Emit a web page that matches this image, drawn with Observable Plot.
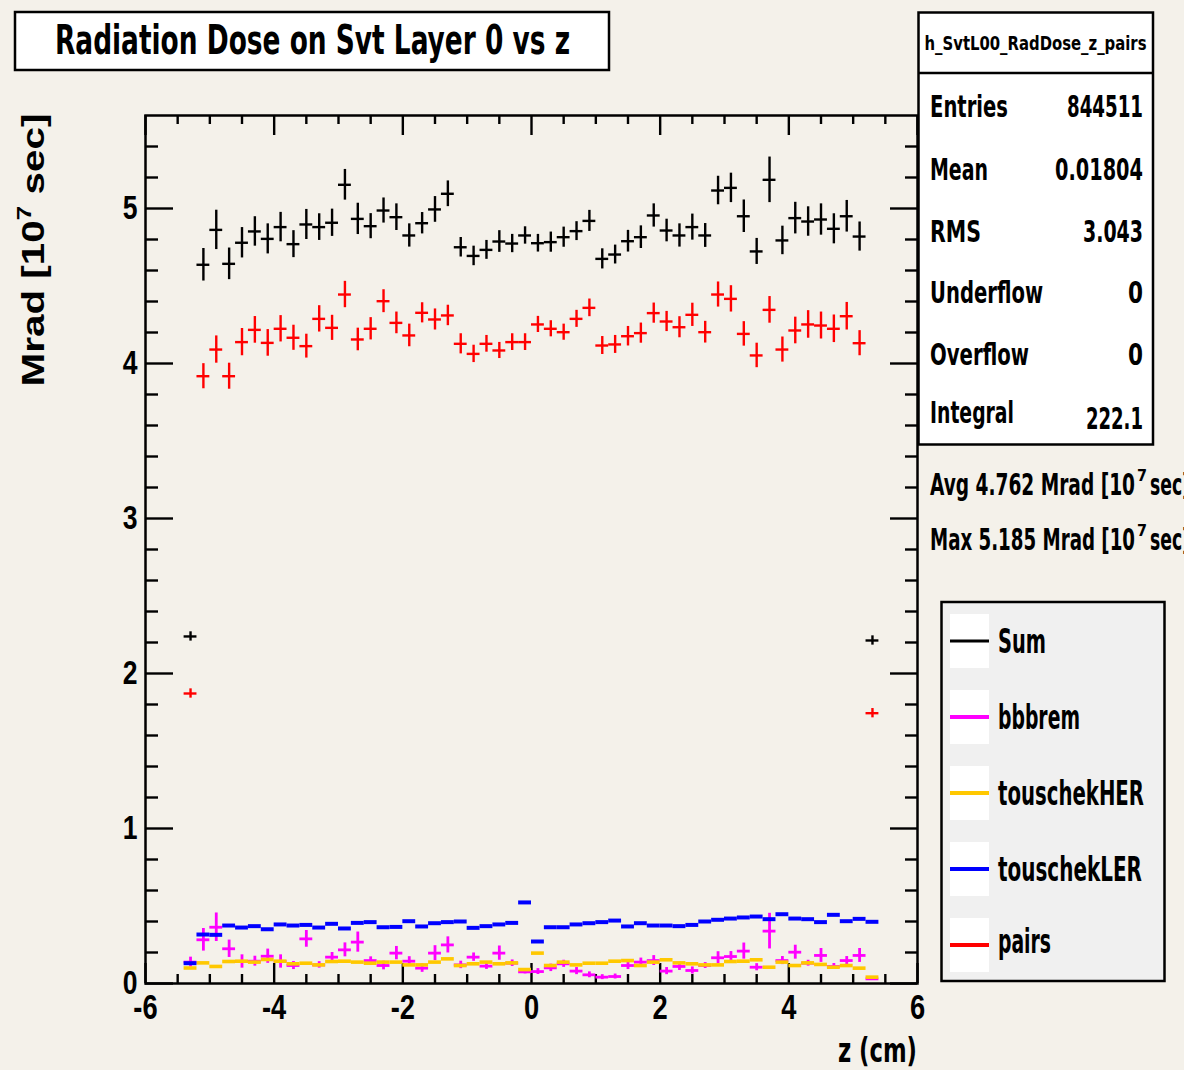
<!DOCTYPE html>
<html>
<head>
<meta charset="utf-8">
<script src="https://cdn.jsdelivr.net/npm/d3@7"></script>
<script src="https://cdn.jsdelivr.net/npm/@observablehq/plot@0.6"></script>
<style>
  html, body { margin: 0; padding: 0; background: #f4f1ea; }
  #chart { position: relative; width: 1184px; height: 1070px; overflow: hidden; }
  #chart > svg { position: absolute; left: 0; top: 0; }
</style>
</head>
<body>
<div id="chart"></div>
<script>
// Bin centres along z (cm), 0.2 cm bins
const z = [-5.3, -5.1, -4.9, -4.7, -4.5, -4.3, -4.1, -3.9, -3.7, -3.5, -3.3, -3.1, -2.9, -2.7,
  -2.5, -2.3, -2.1, -1.9, -1.7, -1.5, -1.3, -1.1, -0.9, -0.7, -0.5, -0.3, -0.1,
  0.1, 0.3, 0.5, 0.7, 0.9, 1.1, 1.3, 1.5, 1.7, 1.9, 2.1, 2.3, 2.5, 2.7, 2.9, 3.1,
  3.3, 3.5, 3.7, 3.9, 4.1, 4.3, 4.5, 4.7, 4.9, 5.1, 5.3];

// Dose per bin, Mrad [10^7 sec]
const sumDose = [2.239, 4.637, 4.862, 4.643, 4.779, 4.852, 4.804, 4.880, 4.770, 4.897, 4.880, 4.908,
  5.153, 4.933, 4.886, 4.987, 4.944, 4.826, 4.905, 4.994, 5.095, 4.750, 4.694, 4.733, 4.787, 4.774,
  4.826, 4.776, 4.783, 4.815, 4.854, 4.920, 4.675, 4.703, 4.789, 4.815, 4.955, 4.858, 4.826, 4.880,
  4.826, 5.116, 5.133, 4.950, 4.723, 5.185, 4.794, 4.938, 4.916, 4.929, 4.869, 4.950, 4.819, 2.213];
const sumErr = [0.030, 0.105, 0.127, 0.102, 0.098, 0.095, 0.097, 0.095, 0.087, 0.097, 0.086, 0.088,
  0.099, 0.101, 0.081, 0.081, 0.086, 0.075, 0.069, 0.083, 0.083, 0.063, 0.063, 0.061, 0.070, 0.059,
  0.056, 0.057, 0.065, 0.065, 0.061, 0.068, 0.065, 0.061, 0.070, 0.073, 0.075, 0.073, 0.075, 0.084,
  0.077, 0.092, 0.095, 0.105, 0.084, 0.147, 0.092, 0.102, 0.095, 0.101, 0.097, 0.102, 0.094, 0.030];

const pairsDose = [1.871, 3.918, 4.090, 3.918, 4.138, 4.217, 4.133, 4.224, 4.166, 4.112, 4.288, 4.230,
  4.445, 4.155, 4.224, 4.402, 4.262, 4.181, 4.327, 4.284, 4.310, 4.127, 4.062, 4.127, 4.084, 4.138,
  4.138, 4.252, 4.224, 4.202, 4.288, 4.359, 4.116, 4.123, 4.176, 4.196, 4.325, 4.271, 4.234, 4.314,
  4.202, 4.445, 4.417, 4.191, 4.052, 4.346, 4.090, 4.213, 4.252, 4.245, 4.224, 4.305, 4.131, 1.744];
const pairsErr = [0.030, 0.081, 0.088, 0.084, 0.088, 0.086, 0.086, 0.085, 0.081, 0.077, 0.085, 0.081,
  0.085, 0.073, 0.072, 0.074, 0.070, 0.073, 0.065, 0.068, 0.066, 0.065, 0.056, 0.054, 0.052, 0.054,
  0.054, 0.052, 0.052, 0.052, 0.055, 0.057, 0.058, 0.058, 0.063, 0.065, 0.065, 0.065, 0.068, 0.075,
  0.070, 0.081, 0.085, 0.079, 0.079, 0.086, 0.081, 0.086, 0.089, 0.087, 0.089, 0.089, 0.081, 0.030];

const bbbremDose = [0.138, 0.282, 0.363, 0.224, 0.142, 0.144, 0.176, 0.142, 0.116, 0.288, 0.120, 0.170,
  0.217, 0.267, 0.148, 0.116, 0.196, 0.144, 0.099, 0.196, 0.249, 0.120, 0.170, 0.112, 0.196, 0.131,
  0.075, 0.077, 0.101, 0.127, 0.080, 0.056, 0.041, 0.045, 0.116, 0.138, 0.148, 0.080, 0.110, 0.084,
  0.116, 0.166, 0.174, 0.209, 0.105, 0.338, 0.148, 0.202, 0.131, 0.181, 0.110, 0.148, 0.181, 0.030];
const bbbremErr = [0.032, 0.073, 0.092, 0.056, 0.043, 0.032, 0.046, 0.043, 0.026, 0.054, 0.021, 0.030,
  0.045, 0.065, 0.024, 0.028, 0.043, 0.029, 0.027, 0.048, 0.052, 0.024, 0.027, 0.021, 0.046, 0.021,
  0.013, 0.019, 0.024, 0.023, 0.023, 0.019, 0.016, 0.016, 0.026, 0.026, 0.032, 0.023, 0.026, 0.023,
  0.019, 0.039, 0.032, 0.052, 0.023, 0.115, 0.026, 0.045, 0.019, 0.045, 0.019, 0.026, 0.045, 0.006];

const herDose = [0.100, 0.133, 0.110, 0.142, 0.144, 0.138, 0.155, 0.144, 0.127, 0.131, 0.120, 0.142,
  0.144, 0.138, 0.131, 0.138, 0.138, 0.120, 0.120, 0.138, 0.159, 0.116, 0.127, 0.138, 0.127, 0.133,
  0.090, 0.196, 0.116, 0.138, 0.120, 0.131, 0.131, 0.144, 0.148, 0.116, 0.138, 0.153, 0.133, 0.127,
  0.120, 0.120, 0.142, 0.144, 0.153, 0.105, 0.138, 0.116, 0.133, 0.123, 0.105, 0.116, 0.099, 0.041];

const lerDose = [0.131, 0.316, 0.314, 0.374, 0.361, 0.370, 0.350, 0.381, 0.374, 0.378, 0.361, 0.385,
  0.355, 0.391, 0.396, 0.363, 0.365, 0.402, 0.368, 0.389, 0.396, 0.400, 0.359, 0.370, 0.381, 0.391,
  0.523, 0.271, 0.363, 0.363, 0.381, 0.389, 0.396, 0.406, 0.368, 0.389, 0.374, 0.374, 0.370, 0.378,
  0.400, 0.411, 0.419, 0.426, 0.432, 0.415, 0.447, 0.419, 0.415, 0.396, 0.443, 0.402, 0.417, 0.398];

// Axis ticks and labels
const xMajorTicks = [-6, -4, -2, 0, 2, 4, 6];
const yMajorTicks = [0, 1, 2, 3, 4, 5];

// Histogram statistics box
const statsTitle = "h_SvtL00_RadDose_z_pairs";
const statNames = ["Entries", "Mean", "RMS", "Underflow", "Overflow", "Integral"];
const statValues = ["844511", "0.01804", "3.043", "0", "0", "222.1"];
const avgDose = "4.762";
const maxDose = "5.185";

const legendNames = ["Sum", "bbbrem", "touschekHER", "touschekLER", "pairs"];
const legendColors = ["#000000", "#ff00ff", "#ffc800", "#0000ff", "#ff0000"];

const NARROW = "'Liberation Sans Narrow','DejaVu Sans Condensed','Arial Narrow','Liberation Sans',sans-serif";
const SANS = "'Liberation Sans',Arial,sans-serif";
const WIDE = "'Liberation Sans','DejaVu Sans',sans-serif";
const halfBin = 0.1;

const series = [
  {values: sumDose, errors: sumErr, color: legendColors[0], sw: 2.4},
  {values: bbbremDose, errors: bbbremErr, color: legendColors[1], sw: 2.8},
  {values: herDose, errors: null, color: legendColors[2], sw: 3.6},
  {values: lerDose, errors: null, color: legendColors[3], sw: 4},
  {values: pairsDose, errors: pairsErr, color: legendColors[4], sw: 2.4}
];

const dataMarks = series.flatMap(s => {
  const rows = z.map((zz, i) => ({z: zz, v: s.values[i], e: s.errors ? s.errors[i] : 0}));
  const marks = [
    Plot.ruleY(rows, {y: "v", x1: d => d.z - halfBin, x2: d => d.z + halfBin, stroke: s.color, strokeWidth: s.sw})
  ];
  if (s.errors) {
    marks.push(Plot.ruleX(rows, {x: "z", y1: d => d.v - d.e, y2: d => d.v + d.e, stroke: s.color, strokeWidth: s.sw}));
  }
  return marks;
});

// Frame ticks pointing inward on all four sides
const xMinorTicks = d3.range(-5.5, 6, 0.5).filter(t => !xMajorTicks.includes(Math.round(t * 10) / 10));
const yMinorTicks = d3.range(1, 28).map(k => +(k * 0.2).toFixed(1)).filter(t => Math.abs(t - Math.round(t)) > 1e-6);

const W = 1184, H = 1070;
const mL = 145, mR = 267, mT = 115, mB = 87;
const innerW = W - mL - mR, innerH = H - mT - mB;
const tickStyle = {stroke: "black", strokeWidth: 2.4};
const plainNumber = d => String(d);

const plot = Plot.plot({
  width: W,
  height: H,
  marginLeft: mL,
  marginRight: mR,
  marginTop: mT,
  marginBottom: mB,
  style: {background: "transparent", overflow: "visible"},
  x: {domain: [-6, 6], axis: null},
  y: {domain: [0, 5.6], axis: null},
  marks: [
    Plot.tickX(xMajorTicks, {x: d => d, insetTop: innerH - 20, ...tickStyle}),
    Plot.tickX(xMinorTicks, {x: d => d, insetTop: innerH - 9, ...tickStyle}),
    Plot.tickX(xMajorTicks, {x: d => d, insetBottom: innerH - 20, ...tickStyle}),
    Plot.tickX(xMinorTicks, {x: d => d, insetBottom: innerH - 9, ...tickStyle}),
    Plot.tickY(yMajorTicks, {y: d => d, insetRight: innerW - 28, ...tickStyle}),
    Plot.tickY(yMinorTicks, {y: d => d, insetRight: innerW - 13, ...tickStyle}),
    Plot.tickY(yMajorTicks, {y: d => d, insetLeft: innerW - 27, ...tickStyle}),
    Plot.tickY(yMinorTicks, {y: d => d, insetLeft: innerW - 12, ...tickStyle}),
    Plot.axisX({ticks: xMajorTicks, tickFormat: plainNumber, tickSize: 0, tickPadding: 11, label: null,
      fontSize: 35, fontWeight: "bold", fontFamily: SANS, fill: "black"}),
    Plot.axisY({ticks: yMajorTicks, tickFormat: plainNumber, tickSize: 0, tickPadding: 8, label: null,
      fontSize: 34, fontWeight: "bold", fontFamily: SANS, fill: "black"}),
    ...dataMarks,
    Plot.frame({stroke: "black", strokeWidth: 2.5})
  ]
});

// Narrow the tick-label glyphs horizontally, keeping each label anchored in place
plot.querySelectorAll('[aria-label="x-axis tick label"] text, [aria-label="y-axis tick label"] text').forEach(t => {
  const tr = t.getAttribute("transform") || "";
  t.setAttribute("transform", `${tr} scale(0.78,1)`);
});

const chart = document.getElementById("chart");
chart.appendChild(plot);

// Annotation layer: title, stats box, summary lines, legend, axis titles
const NS = "http://www.w3.org/2000/svg";
const over = document.createElementNS(NS, "svg");
over.setAttribute("width", W);
over.setAttribute("height", H);
over.style.pointerEvents = "none";
chart.appendChild(over);

function el(tag, attrs, parent = over) {
  const e = document.createElementNS(NS, tag);
  for (const k in attrs) e.setAttribute(k, attrs[k]);
  parent.appendChild(e);
  return e;
}
function txt(str, {x, y, size, width, anchor = "start", family = NARROW, weight = "bold", parent = over}) {
  let x0 = x;
  if (width != null) {
    if (anchor === "end") x0 = x - width;
    else if (anchor === "middle") x0 = x - width / 2;
  }
  const a = {x: x0, y, "font-size": size, "font-family": family, "font-weight": weight, fill: "black",
    "text-anchor": width != null ? "start" : anchor};
  if (width != null) { a.textLength = width; a.lengthAdjust = "spacingAndGlyphs"; }
  const t = el("text", a, parent);
  t.textContent = str;
  return t;
}

// Title box
el("rect", {x: 15, y: 12, width: 594, height: 58, fill: "white", stroke: "black", "stroke-width": 2.5});
txt("Radiation Dose on Svt Layer 0 vs z", {x: 312.5, y: 54, size: 40, width: 515, anchor: "middle"});

// Statistics box
el("rect", {x: 918.5, y: 12.5, width: 234.5, height: 432, fill: "white", stroke: "black", "stroke-width": 2.5});
el("line", {x1: 918.5, x2: 1153, y1: 73, y2: 73, stroke: "black", "stroke-width": 2.5});
txt(statsTitle, {x: 1035.5, y: 50, size: 20, width: 222, anchor: "middle"});
const statBase = [117, 180, 242, 303, 365, 423];
const statValBase = [117, 180, 242, 303, 365, 429];
const statNameW = [78, 58, 51, 113, 99, 84];
const statValW = [76, 88, 60, 15, 15, 57];
statNames.forEach((n, i) => {
  txt(n, {x: 930, y: statBase[i], size: 30, width: statNameW[i]});
  txt(statValues[i], {x: 1143, y: statValBase[i], size: 30, width: statValW[i], anchor: "end"});
});

// Average / maximum dose lines (they run past the right edge of the canvas)
function doseLine(prefix, value, y) {
  txt(`${prefix} ${value} Mrad [10`, {x: 930, y, size: 31, width: 205});
  txt("7", {x: 1137, y: y - 14, size: 16});
  txt("sec]", {x: 1150, y, size: 31, width: 40});
}
doseLine("Avg", avgDose, 495);
doseLine("Max", maxDose, 550);

// Legend
el("rect", {x: 941.5, y: 602, width: 223, height: 379, fill: "#f0f0f0", stroke: "black", "stroke-width": 2.5});
const legTop = [614, 690, 766, 842, 918];
const legBase = [653, 729, 805, 881, 953];
const legW = [48, 82, 146, 144, 53];
legendNames.forEach((n, i) => {
  el("rect", {x: 950, y: legTop[i], width: 39, height: 54, fill: "white"});
  el("line", {x1: 950, x2: 989, y1: legTop[i] + 27, y2: legTop[i] + 27, stroke: legendColors[i], "stroke-width": i === 0 ? 3 : 4});
  txt(n, {x: 998, y: legBase[i], size: 34, width: legW[i]});
});

// Axis titles
txt("z (cm)", {x: 917, y: 1062, size: 34, width: 79, anchor: "end"});
const yt = el("text", {transform: "translate(44,250) rotate(-90)", "text-anchor": "middle",
  "font-size": 31, "font-family": WIDE, "font-weight": "bold", fill: "black",
  textLength: 273, lengthAdjust: "spacingAndGlyphs"});
const t1 = el("tspan", {}, yt); t1.textContent = "Mrad [10";
const t2 = el("tspan", {dy: -13, "font-size": 20}, yt); t2.textContent = "7";
const t3 = el("tspan", {dy: 13}, yt); t3.textContent = " sec]";
</script>
</body>
</html>
